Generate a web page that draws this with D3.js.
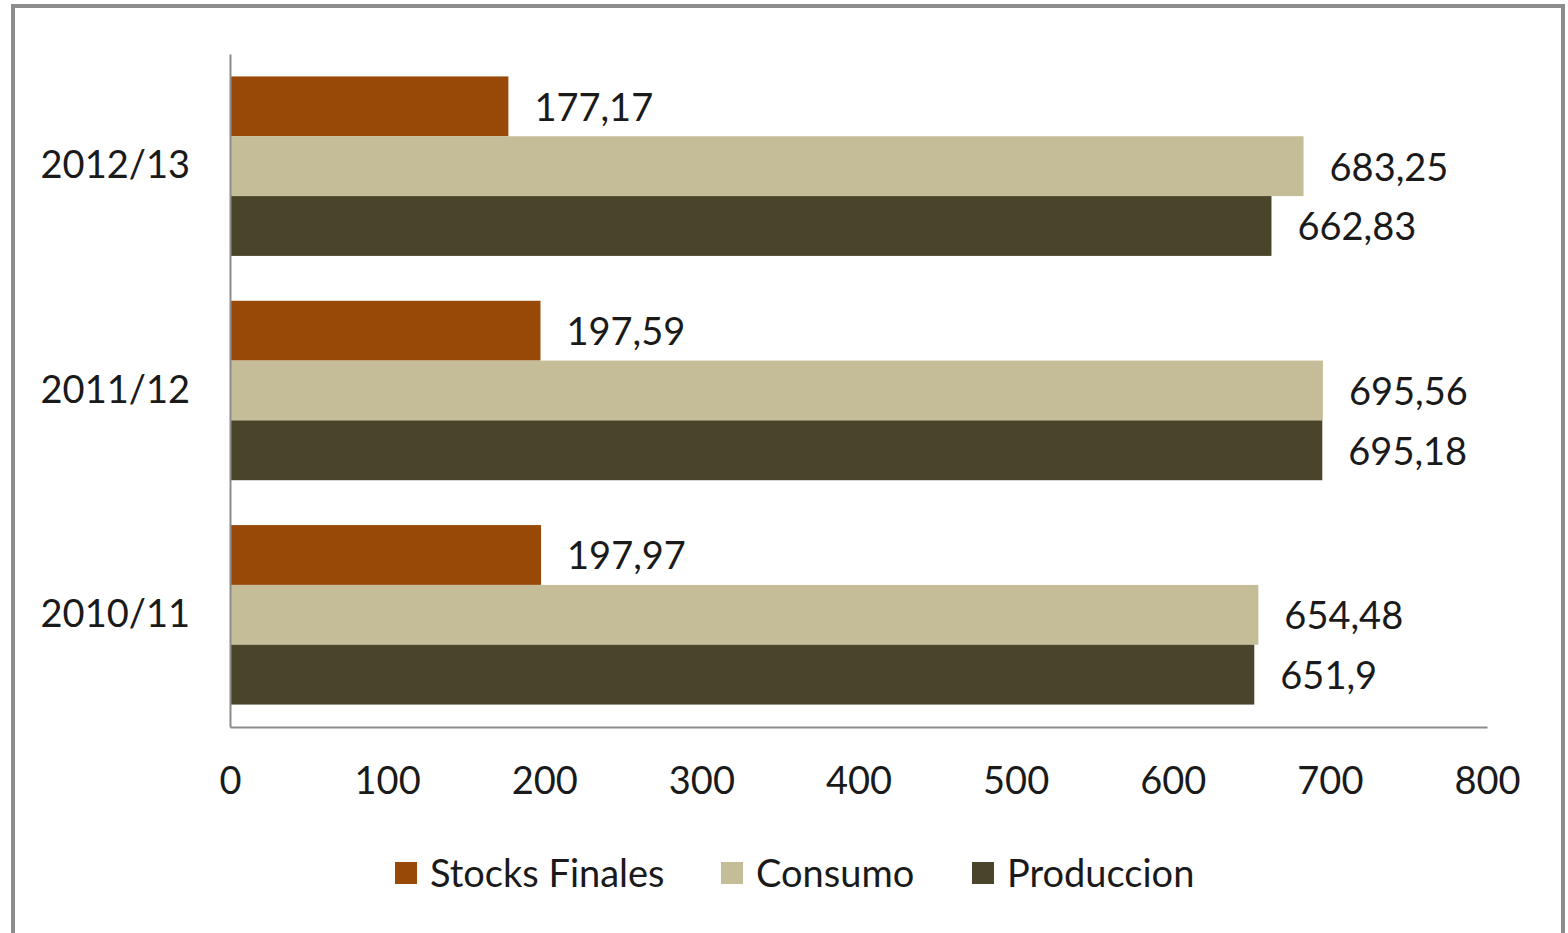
<!DOCTYPE html>
<html>
<head>
<meta charset="utf-8">
<script src="https://cdn.jsdelivr.net/npm/d3@7"></script>
<style>
  body { margin: 0; background: #fff; }
  text { font-family: Lato, "Open Sans", sans-serif; fill: #1a1a1a; }
</style>
</head>
<body>
<div id="chart"></div>
<script>
// data
const campaigns = ["2012/13", "2011/12", "2010/11"];
const seriesNames = ["Stocks Finales", "Consumo", "Produccion"];
const stocks = [177.17, 197.59, 197.97];
const consumo = [683.25, 695.56, 654.48];
const produccion = [662.83, 695.18, 651.9];
const xTicks = [0, 100, 200, 300, 400, 500, 600, 700, 800];
const colors = ["#984807", "#C4BD97", "#4A452A"];

const W = 1568, H = 933;
const plot = { left: 230, right: 1487, top: 54, bottom: 727 };
const fontSize = "38px";

const svg = d3.select("#chart").append("svg")
  .attr("width", W).attr("height", H);

// outer frame
svg.append("rect")
  .attr("x", 13).attr("y", 6)
  .attr("width", 1550).attr("height", 940)
  .attr("fill", "#fff")
  .attr("stroke", "#8c8c8c")
  .attr("stroke-width", 4);

const x = d3.scaleLinear().domain([0, 800]).range([plot.left, plot.right]);
const y0 = d3.scaleBand().domain(campaigns).range([plot.top, plot.bottom]).paddingInner(0.2).paddingOuter(0.1);
const y1 = d3.scaleBand().domain(seriesNames).range([0, y0.bandwidth()]);

const rows = campaigns.map((c, i) => ({
  campaign: c,
  values: [stocks[i], consumo[i], produccion[i]].map((v, k) => ({ name: seriesNames[k], value: v, color: colors[k] }))
}));

// bars
const groups = svg.selectAll(".grp")
  .data(rows)
  .enter().append("g")
  .attr("class", "grp")
  .attr("transform", d => `translate(0,${y0(d.campaign)})`);

groups.selectAll("rect")
  .data(d => d.values)
  .enter().append("rect")
  .attr("x", x(0))
  .attr("y", d => y1(d.name))
  .attr("width", d => x(d.value) - x(0))
  .attr("height", y1.bandwidth())
  .attr("fill", d => d.color);

// value labels
const fmt = v => String(v).replace(".", ",");
groups.selectAll(".lbl")
  .data(d => d.values)
  .enter().append("text")
  .attr("class", "lbl")
  .attr("x", d => x(d.value) + 26)
  .attr("y", d => y1(d.name) + y1.bandwidth() / 2)
  .attr("dy", "0.38em")
  .style("font-size", fontSize)
  .text(d => fmt(d.value));

// y axis
const yAxis = svg.append("g")
  .attr("transform", `translate(${plot.left},0)`)
  .call(d3.axisLeft(y0).tickSize(0).tickPadding(40));
yAxis.select(".domain").attr("stroke", "#8c8c8c").attr("stroke-width", 2);
yAxis.selectAll("text").style("font-size", fontSize).attr("fill", "#1a1a1a");

// x axis
const xAxis = svg.append("g")
  .attr("transform", `translate(0,${plot.bottom})`)
  .call(d3.axisBottom(x).tickValues(xTicks).tickSize(0).tickPadding(40).tickSizeOuter(0));
xAxis.select(".domain").attr("stroke", "#8c8c8c").attr("stroke-width", 2);
xAxis.selectAll("text").style("font-size", fontSize).attr("fill", "#1a1a1a");

// legend
const legendX = [395, 721, 972];
const legend = svg.selectAll(".leg")
  .data(seriesNames)
  .enter().append("g")
  .attr("class", "leg")
  .attr("transform", (d, i) => `translate(${legendX[i]},862)`);
legend.append("rect")
  .attr("width", 22).attr("height", 22)
  .attr("fill", (d, i) => colors[i]);
legend.append("text")
  .attr("x", 35).attr("y", 11)
  .attr("dy", "0.38em")
  .style("font-size", fontSize)
  .text(d => d);
</script>
</body>
</html>
